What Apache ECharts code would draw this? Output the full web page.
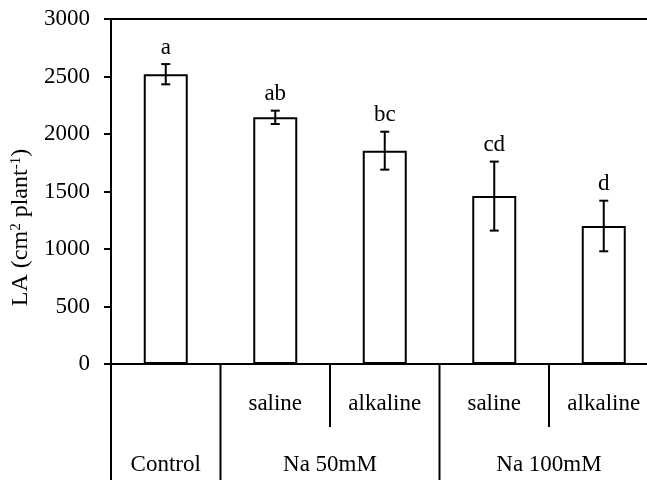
<!DOCTYPE html>
<html>
<head>
<meta charset="utf-8">
<script src="https://cdn.jsdelivr.net/npm/echarts@6/dist/echarts.min.js"></script>
<style>
html,body{margin:0;padding:0;background:#fff;}
#chart{width:647px;height:480px;}
</style>
</head>
<body>
<div id="chart"></div>
<script>
// ---- data ----
const categories = ['Control', 'Na 50mM saline', 'Na 50mM alkaline', 'Na 100mM saline', 'Na 100mM alkaline'];
const subLabels = ['', 'saline', 'alkaline', 'saline', 'alkaline'];
const groupLabels = ['Control', 'Na 50mM', 'Na 100mM'];
const groupOf = [0, 1, 1, 2, 2];
const means = [2520, 2145, 1855, 1460, 1200];
const errors = [88, 58, 165, 300, 220];
const letters = ['a', 'ab', 'bc', 'cd', 'd'];
const yMin = 0, yMax = 3000, yInterval = 500;

const FONT = 'Liberation Serif';
const FS = 23;

const chart = echarts.init(document.getElementById('chart'), null, {renderer: 'canvas'});

function errorItem(params, api) {
  const i = api.value(0);
  const m = api.value(1);
  const e = api.value(2);
  const top = api.coord([i, m + e]);
  const bot = api.coord([i, m - e]);
  const cap = 4.5;
  const st = {stroke: '#000', lineWidth: 2};
  return {
    type: 'group',
    children: [
      {type: 'line', shape: {x1: top[0], y1: top[1], x2: bot[0], y2: bot[1]}, style: st},
      {type: 'line', shape: {x1: top[0] - cap, y1: top[1], x2: top[0] + cap, y2: top[1]}, style: st},
      {type: 'line', shape: {x1: bot[0] - cap, y1: bot[1], x2: bot[0] + cap, y2: bot[1]}, style: st},
      {type: 'text', x: top[0], y: top[1] - 5, style: {
        text: letters[i], fill: '#000', font: FS + 'px "' + FONT + '"',
        align: 'center', verticalAlign: 'bottom'}}
    ]
  };
}

function tableItem(params, api) {
  const i = api.value(0);
  const c = api.coord([i, yMin]);
  const bw = api.size([1, 0])[0];
  const st = {stroke: '#000', lineWidth: 2};
  const x0 = c[0] - bw / 2;
  const isGroupStart = (i === 0) || (groupOf[i] !== groupOf[i - 1]);
  const children = [];
  children.push({type: 'line', shape: {x1: x0, y1: c[1], x2: x0, y2: c[1] + (isGroupStart ? 130 : 63)}, style: st});
  if (subLabels[i]) {
    children.push({type: 'text', x: c[0], y: c[1] + 40, style: {
      text: subLabels[i], fill: '#000', font: FS + 'px "' + FONT + '"', align: 'center', verticalAlign: 'middle'}});
  }
  if (isGroupStart) {
    let last = i;
    while (last + 1 < groupOf.length && groupOf[last + 1] === groupOf[i]) last++;
    const cl = api.coord([last, yMin]);
    children.push({type: 'text', x: (c[0] + cl[0]) / 2, y: c[1] + 101, style: {
      text: groupLabels[groupOf[i]], fill: '#000', font: FS + 'px "' + FONT + '"', align: 'center', verticalAlign: 'middle'}});
  }
  return {type: 'group', children: children};
}

const option = {
  animation: false,
  backgroundColor: '#fff',
  grid: {left: 111, width: 547.5, top: 19, bottom: 116, outerBoundsMode: 'none', containLabel: false,
         show: true, borderColor: '#000', borderWidth: 2, backgroundColor: 'transparent'},
  xAxis: {
    type: 'category',
    data: categories,
    axisLine: {show: true, lineStyle: {color: '#000', width: 2}},
    axisTick: {show: false},
    axisLabel: {show: false},
    splitLine: {show: false}
  },
  yAxis: {
    type: 'value',
    min: yMin, max: yMax, interval: yInterval,
    name: 'LA (cm{sup|2} plant{sup|-1})',
    nameLocation: 'middle',
    nameGap: 78,
    nameRotate: 90,
    nameTextStyle: {
      fontFamily: FONT, fontSize: 24, color: '#000',
      padding: [0, 72, 0, 0],
      rich: {sup: {fontFamily: FONT, fontSize: 15, color: '#000', verticalAlign: 'top', padding: [0, 0, 8, 0]}}
    },
    axisLine: {show: true, lineStyle: {color: '#000', width: 2}},
    axisTick: {show: true, length: 7, lineStyle: {color: '#000', width: 2}},
    axisLabel: {fontFamily: FONT, fontSize: FS, color: '#000', margin: 21, formatter: v => String(v)},
    splitLine: {show: false}
  },
  series: [
    {
      type: 'bar',
      data: means,
      barWidth: 44,
      itemStyle: {color: '#fff', borderColor: '#000', borderWidth: 2},
      z: 2
    },
    {
      type: 'custom',
      data: means.map((m, i) => [i, m, errors[i]]),
      renderItem: errorItem,
      clip: false,
      z: 5
    },
    {
      type: 'custom',
      data: categories.map((c, i) => [i, 0]),
      renderItem: tableItem,
      clip: false,
      z: 5
    }
  ]
};
chart.setOption(option);
</script>
</body>
</html>
